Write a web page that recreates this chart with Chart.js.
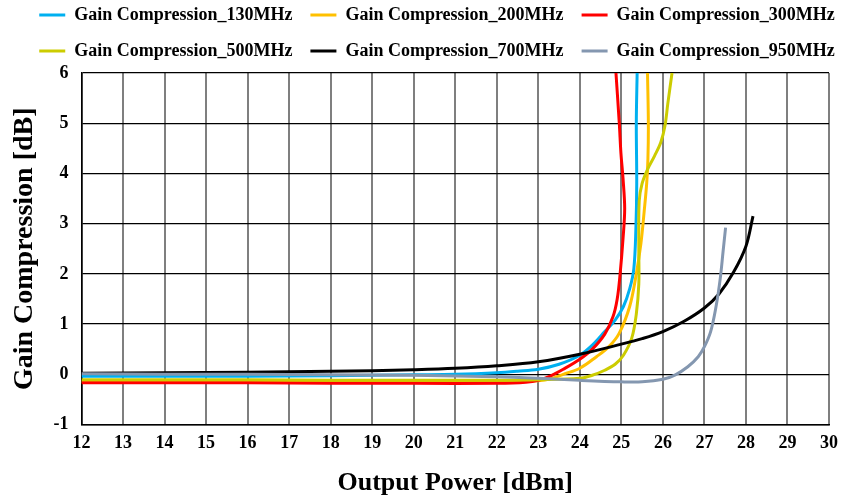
<!DOCTYPE html>
<html>
<head>
<meta charset="utf-8">
<script src="https://cdn.jsdelivr.net/npm/chart.js@4.4.1/dist/chart.umd.min.js"></script>
<style>
  html, body { margin: 0; padding: 0; background: #fff; }
</style>
</head>
<body>
<canvas id="gcChart" width="846" height="500"></canvas>
<script>
// output power [dBm] / gain compression [dB]
const x130 = [12, 14, 16, 18, 20, 21, 22, 22.5, 23, 23.5, 24, 24.3, 24.6, 24.85, 25.05, 25.2, 25.3, 25.35, 25.37, 25.36, 25.38];
const y130 = [-0.04, -0.04, -0.04, -0.03, -0.01, 0.0, 0.03, 0.06, 0.1, 0.2, 0.38, 0.58, 0.85, 1.08, 1.35, 1.7, 2.1, 2.9, 3.8, 5.0, 6.0];

const x200 = [12, 14, 16, 18, 20, 22, 23, 23.3, 23.6, 24, 24.4, 24.7, 24.95, 25.2, 25.35, 25.47, 25.55, 25.61, 25.64, 25.65, 25.63];
const y200 = [-0.15, -0.15, -0.15, -0.16, -0.16, -0.16, -0.13, -0.09, 0.0, 0.12, 0.35, 0.55, 0.82, 1.35, 1.95, 2.6, 3.25, 3.8, 4.3, 5.0, 6.0];

const x300 = [12, 14, 16, 18, 20, 22, 22.7, 23, 23.3, 23.6, 24, 24.3, 24.6, 24.8, 24.9, 24.97, 25.04, 25.08, 25.04, 24.99, 24.95, 24.87];
const y300 = [-0.17, -0.17, -0.17, -0.18, -0.18, -0.18, -0.16, -0.12, -0.03, 0.1, 0.3, 0.5, 0.8, 1.15, 1.5, 2.0, 2.7, 3.3, 3.9, 4.4, 5.0, 6.0];

const x500 = [12, 14, 16, 18, 20, 22, 23, 24, 24.3, 24.6, 24.85, 25.05, 25.25, 25.36, 25.42, 25.42, 25.43, 25.5, 25.63, 25.8, 25.95, 26.05, 26.12, 26.22];
const y500 = [-0.11, -0.11, -0.11, -0.12, -0.12, -0.12, -0.11, -0.08, -0.02, 0.08, 0.2, 0.38, 0.72, 1.2, 1.8, 2.5, 3.45, 3.8, 4.08, 4.35, 4.62, 4.95, 5.4, 6.0];

const x700 = [12, 14, 16, 18, 19, 20, 21, 22, 23, 24, 25, 25.5, 26, 26.5, 27, 27.35, 27.7, 28, 28.17];
const y700 = [0.02, 0.03, 0.04, 0.06, 0.07, 0.09, 0.12, 0.17, 0.25, 0.4, 0.6, 0.71, 0.85, 1.05, 1.32, 1.6, 2.03, 2.55, 3.15];

const x950 = [12, 14, 16, 18, 20, 22, 23, 24, 25, 25.5, 26, 26.3, 26.6, 26.85, 27, 27.15, 27.28, 27.38, 27.45, 27.51];
const y950 = [0.01, 0.0, 0.0, -0.01, -0.02, -0.05, -0.08, -0.12, -0.15, -0.15, -0.1, -0.01, 0.15, 0.35, 0.55, 0.85, 1.35, 1.9, 2.45, 2.92];

const seriesNames = ["Gain Compression_130MHz", "Gain Compression_200MHz", "Gain Compression_300MHz",
                     "Gain Compression_500MHz", "Gain Compression_700MHz", "Gain Compression_950MHz"];
const seriesColors = ["#00B0F0", "#FFC000", "#FF0000", "#CCCC00", "#000000", "#8497B0"];
const xTicks = [12, 30, 1];   // min, max, step
const yTicks = [-1, 6, 1];

const xs = [x130, x200, x300, x500, x700, x950];
const ys = [y130, y200, y300, y500, y700, y950];

const serif = "'Liberation Serif', 'Times New Roman', serif";

const datasets = seriesNames.map((name, i) => ({
  label: name,
  data: xs[i].map((x, k) => ({ x: x, y: ys[i][k] })),
  showLine: true,
  borderColor: seriesColors[i],
  backgroundColor: seriesColors[i],
  borderWidth: 3,
  pointRadius: 0,
  tension: 0.35,
  order: seriesNames.length - i   // later series drawn on top, like the original
}));

// the built in layout centres the legend; move it up and to the right a bit
const legendNudge = {
  id: "legendNudge",
  afterLayout(chart) {
    chart.legend.top -= 12;
    chart.legend.left += 14;
    chart.legend.right += 14;
  }
};

const ctx = document.getElementById("gcChart").getContext("2d");

new Chart(ctx, {
  type: "scatter",
  data: { datasets },
  plugins: [legendNudge],
  options: {
    responsive: false,
    animation: false,
    layout: { padding: { top: 0, left: 0, right: 0, bottom: 0 } },
    plugins: {
      tooltip: { enabled: false },
      legend: {
        position: "top",
        maxHeight: 73,
        labels: {
          usePointStyle: true,
          pointStyle: "line",
          pointStyleWidth: 26,
          padding: 18,
          color: "#000",
          font: { family: serif, size: 18, weight: "bold" },
          sort: (a, b) => a.datasetIndex - b.datasetIndex
        }
      }
    },
    scales: {
      x: {
        type: "linear",
        min: xTicks[0],
        max: xTicks[1],
        ticks: {
          stepSize: xTicks[2],
          color: "#000",
          padding: 8,
          font: { family: serif, size: 18, weight: "bold" }
        },
        grid: { color: "#7f7f7f", lineWidth: 2, drawTicks: false },
        border: { color: "#000", width: 1.5 },
        title: {
          display: true,
          text: "Output Power [dBm]",
          color: "#000",
          font: { family: serif, size: 26, weight: "bold" },
          padding: { top: 0, bottom: 1 }
        },
        afterFit: (scale) => { scale.height = 75.5; }
      },
      y: {
        min: yTicks[0],
        max: yTicks[1],
        ticks: {
          stepSize: yTicks[2],
          color: "#000",
          padding: 13,
          font: { family: serif, size: 18, weight: "bold" }
        },
        grid: { color: "#000", lineWidth: 1.3, drawTicks: false },
        border: { color: "#000", width: 1.5 },
        title: {
          display: true,
          text: "Gain Compression [dB]",
          color: "#000",
          font: { family: serif, size: 28, weight: "bold" },
          padding: { top: 8, bottom: 0 }
        },
        afterFit: (scale) => { scale.width = 81.5; }
      },
      // empty strip on the right so the plot ends at the same place as the original
      yRight: {
        position: "right",
        display: true,
        ticks: { display: false },
        grid: { display: false, drawTicks: false },
        border: { display: false },
        afterFit: (scale) => { scale.width = 16; }
      }
    }
  }
});
</script>
</body>
</html>
